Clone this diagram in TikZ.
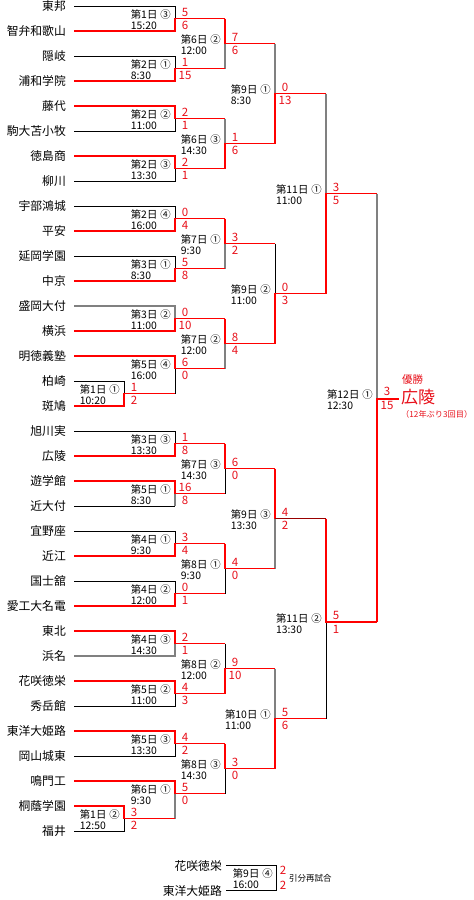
\documentclass[tikz,border=0pt]{standalone}
\usepackage{fontspec}
\setmainfont{Noto Sans CJK JP}
\definecolor{wred}{HTML}{FF0000}
\definecolor{sred}{HTML}{E8101A}
\definecolor{lgray}{HTML}{808080}
\newcommand\dy[2]{第#1日\hspace{3pt}#2}
\newcommand\mt[7]{%
 \node[mlab] (#1) at ({#2-4},{#3+1.5}) {#4\\#5};
 \node[sc] (#1u) at ({#2+10},{#3-6.5}) {#6};
 \node[sc] (#1d) at ({#2+10},{#3+7}) {#7};}
\begin{document}
\begin{tikzpicture}[x=1pt,y=-1pt,
  win/.style={draw=wred,line width=1.8pt,line join=miter},
  lose/.style={draw=black,line width=0.8pt},
  gl/.style={draw=lgray,line width=1.1pt},
  dwin/.style={draw=wred!60!black,line width=1.8pt},
  team/.style={anchor=east,inner sep=0pt,font=\fontsize{11.8}{12}\selectfont},
  mlab/.style={anchor=east,inner sep=0pt,align=left,font=\fontsize{10.4}{10.8}\selectfont},
  sc/.style={inner sep=0pt,text=sred,font=\fontsize{11.5}{12}\selectfont},
]
\useasboundingbox[fill=white] (0,0) rectangle (474,900);
% team names
\foreach \t [count=\i from 0] in {東邦,智弁和歌山,隠岐,浦和学院,藤代,駒大苫小牧,徳島商,柳川,宇部鴻城,平安,延岡学園,中京,盛岡大付,横浜,明徳義塾,柏崎,斑鳩,旭川実,広陵,遊学館,近大付,宜野座,近江,国士舘,愛工大名電,東北,浜名,花咲徳栄,秀岳館,東洋大姫路,岡山城東,鳴門工,桐蔭学園,福井}
  {\node[team] (t\i) at (66,{6+25*\i}) {\t};}
% ---------- round 1 : losers ----------
\draw[lose] (74,6)--(175,6)--(175,18.5);
\draw[lose] (74,56)--(175,56)--(175,68.5);
\draw[lose] (74,131)--(175,131)--(175,118.5);
\draw[lose] (74,181)--(175,181)--(175,168.5);
\draw[lose] (74,206)--(175,206)--(175,218.5);
\draw[lose] (74,256)--(175,256)--(175,268.5);
\draw[gl] (74,306)--(175,306)--(175,318.5);
\draw[lose] (74,381)--(124,381)--(124,393.5);
\draw[lose] (175,393.5)--(175,368.5);
\draw[lose] (74,431)--(175,431)--(175,443.5);
\draw[lose] (74,506)--(175,506);
\draw[gl] (175,506)--(175,493.5);
\draw[lose] (74,531)--(175,531)--(175,543.5);
\draw[lose] (74,581)--(175,581)--(175,593.5);
\draw[gl] (74,656)--(175,656)--(175,643.5);
\draw[lose] (74,706)--(175,706)--(175,693.5);
\draw[lose] (74,756)--(175,756)--(175,743.5);
\draw[lose] (74,831)--(124,831)--(124,818.5);
\draw[gl] (175,818.5)--(175,793.5);
% ---------- round 2 : losers ----------
\draw[gl] (225,68.5)--(225,43.5);
\draw[gl] (225,118.5)--(225,143.5);
\draw[gl] (225,268.5)--(225,243.5);
\draw[gl] (225,368.5)--(225,343.5);
\draw[lose] (225,493.5)--(225,468.5);
\draw[lose] (225,593.5)--(225,568.5);
\draw[lose] (225,643.5)--(225,668.5);
\draw[lose] (225,793.5)--(225,768.5);
% ---------- round 3 / 4 / final : losers ----------
\draw[gl] (275,43.5)--(275,93.5);
\draw[lose] (275,243.5)--(275,293.5);
\draw[gl] (275,568.5)--(275,518.5);
\draw[gl] (275,668.5)--(275,718.5);
\draw[gl] (326,93.5)--(326,193.5);
\draw[lose] (326,718.5)--(326,622);
\draw[gl] (377,193.5)--(377,399);
% ---------- winners, round 1 ----------
\draw[win] (74,31)--(175,31)--(175,18.5)--(225,18.5);
\draw[win] (74,81)--(175,81)--(175,68.5)--(225,68.5);
\draw[win] (74,106)--(175,106)--(175,118.5)--(225,118.5);
\draw[win] (74,156)--(175,156)--(175,168.5)--(225,168.5);
\draw[win] (74,231)--(175,231)--(175,218.5)--(225,218.5);
\draw[win] (74,281)--(175,281)--(175,268.5)--(225,268.5);
\draw[win] (74,331)--(175,331)--(175,318.5)--(225,318.5);
\draw[win] (74,356)--(175,356)--(175,368.5)--(225,368.5);
\draw[win] (74,406)--(124,406)--(124,393.5)--(175,393.5);
\draw[win] (74,456)--(175,456)--(175,443.5)--(225,443.5);
\draw[win] (74,481)--(175,481)--(175,493.5)--(225,493.5);
\draw[win] (74,556)--(175,556)--(175,543.5)--(225,543.5);
\draw[win] (74,606)--(175,606)--(175,593.5)--(225,593.5);
\draw[win] (74,631)--(175,631)--(175,643.5)--(225,643.5);
\draw[win] (74,681)--(175,681)--(175,693.5)--(225,693.5);
\draw[win] (74,731)--(175,731)--(175,743.5)--(225,743.5);
\draw[win] (74,781)--(175,781)--(175,793.5)--(225,793.5);
\draw[win] (74,806)--(124,806)--(124,818.5)--(175,818.5);
% ---------- winners, round 2 ----------
\draw[win] (225,18.5)--(225,43.5)--(275,43.5);
\draw[win] (225,168.5)--(225,143.5)--(275,143.5);
\draw[win] (225,218.5)--(225,243.5)--(275,243.5);
\draw[win] (225,318.5)--(225,343.5)--(275,343.5);
\draw[win] (225,443.5)--(225,468.5)--(275,468.5);
\draw[win] (225,543.5)--(225,568.5)--(275,568.5);
\draw[win] (225,693.5)--(225,668.5)--(275,668.5);
\draw[win] (225,743.5)--(225,768.5)--(275,768.5);
% ---------- winners, round 3 ----------
\draw[win] (275,143.5)--(275,93.5)--(326,93.5);
\draw[win] (275,343.5)--(275,293.5)--(326,293.5);
\draw[win] (275,468.5)--(275,518.5);
\draw[dwin] (275,518.5)--(326,518.5);
\draw[win] (275,768.5)--(275,718.5)--(326,718.5);
% ---------- winners, round 4 and final ----------
\draw[win] (326,293.5)--(326,193.5)--(377,193.5);
\draw[win] (326,518.5)--(326,622)--(377,622);
\draw[win] (377,622)--(377,399)--(399,399);
% ---------- match labels and scores ----------
\mt{a1}{175}{18.5}{\dy{1}{③}}{15:20}{5}{6}
\mt{a2}{175}{68.5}{\dy{2}{①}}{8:30}{1}{15}
\mt{a3}{175}{118.5}{\dy{2}{②}}{11:00}{2}{1}
\mt{a4}{175}{168.5}{\dy{2}{③}}{13:30}{2}{1}
\mt{a5}{175}{218.5}{\dy{2}{④}}{16:00}{0}{4}
\mt{a6}{175}{268.5}{\dy{3}{①}}{8:30}{5}{8}
\mt{a7}{175}{318.5}{\dy{3}{②}}{11:00}{0}{10}
\mt{a8}{175}{368.5}{\dy{5}{④}}{16:00}{6}{0}
\mt{p1}{124}{393.5}{\dy{1}{①}}{10:20}{1}{2}
\mt{b1}{175}{443.5}{\dy{3}{③}}{13:30}{1}{8}
\mt{b2}{175}{493.5}{\dy{5}{①}}{8:30}{16}{8}
\mt{b3}{175}{543.5}{\dy{4}{①}}{9:30}{3}{4}
\mt{b4}{175}{593.5}{\dy{4}{②}}{12:00}{0}{1}
\mt{b5}{175}{643.5}{\dy{4}{③}}{14:30}{2}{1}
\mt{b6}{175}{693.5}{\dy{5}{②}}{11:00}{4}{3}
\mt{b7}{175}{743.5}{\dy{5}{③}}{13:30}{4}{2}
\mt{b8}{175}{793.5}{\dy{6}{①}}{9:30}{5}{0}
\mt{p2}{124}{818.5}{\dy{1}{②}}{12:50}{3}{2}
\mt{c1}{225}{43.5}{\dy{6}{②}}{12:00}{7}{6}
\mt{c2}{225}{143.5}{\dy{6}{③}}{14:30}{1}{6}
\mt{c3}{225}{243.5}{\dy{7}{①}}{9:30}{3}{2}
\mt{c4}{225}{343.5}{\dy{7}{②}}{12:00}{8}{4}
\mt{c5}{225}{468.5}{\dy{7}{③}}{14:30}{6}{0}
\mt{c6}{225}{568.5}{\dy{8}{①}}{9:30}{4}{0}
\mt{c7}{225}{668.5}{\dy{8}{②}}{12:00}{9}{10}
\mt{c8}{225}{768.5}{\dy{8}{③}}{14:30}{3}{0}
\mt{d1}{275}{93.5}{\dy{9}{①}}{8:30}{0}{13}
\mt{d2}{275}{293.5}{\dy{9}{②}}{11:00}{0}{3}
\mt{d3}{275}{518.5}{\dy{9}{③}}{13:30}{4}{2}
\mt{d4}{275}{718.5}{\dy{10}{①}}{11:00}{5}{6}
\mt{e1}{326}{193.5}{\dy{11}{①}}{11:00}{3}{5}
\mt{e2}{326}{622}{\dy{11}{②}}{13:30}{5}{1}
\mt{f1}{377}{398}{\dy{12}{①}}{12:30}{3}{15}
% ---------- champion ----------
\node[anchor=west,inner sep=0pt,text=sred,font=\fontsize{10.5}{10.5}\selectfont] (yu) at (402,380) {優勝};
\node[anchor=west,inner sep=0pt,text=sred,font=\fontsize{17}{17}\selectfont] (ch) at (401,397.5) {広陵};
\node[anchor=west,inner sep=0pt,text=sred,font=\fontsize{8.2}{8.2}\selectfont] (ch2) at (401,414) {（12年ぶり3回目）};
% ---------- replay ----------
\node[team] (r1) at (222,866) {花咲徳栄};
\node[team] (r2) at (222,891) {東洋大姫路};
\draw[lose] (226,865)--(276,865)--(276,890)--(226,890);
\node[mlab] (rm) at (273,879) {\dy{9}{④}\\16:00};
\node[sc] (rs1) at (283,870) {2};
\node[sc] (rs2) at (283,885) {2};
\node[anchor=west,inner sep=0pt,font=\fontsize{8.5}{9}\selectfont] (rt) at (289,878) {引分再試合};
\end{tikzpicture}
\end{document}
